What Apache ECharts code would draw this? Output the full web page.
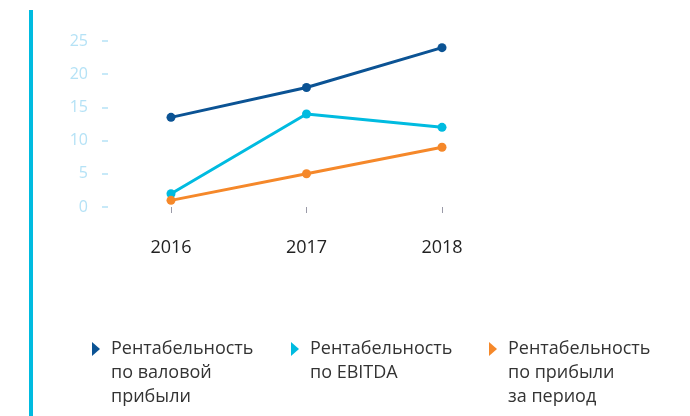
<!DOCTYPE html>
<html>
<head>
<meta charset="utf-8">
<script src="https://cdn.jsdelivr.net/npm/echarts@6/dist/echarts.min.js"></script>
<style>
  html, body { margin: 0; padding: 0; background: #fff; }
  #chart { width: 690px; height: 416px; }
</style>
</head>
<body>
<div id="chart"></div>
<script>
  var years = ['2016', '2017', '2018'];
  var grossMargin = [13.5, 18, 24];
  var ebitdaMargin = [2, 14, 12];
  var netMargin = [1, 5, 9];
  var names = [
    'Рентабельность\nпо валовой\nприбыли',
    'Рентабельность\nпо EBITDA',
    'Рентабельность\nпо прибыли\nза период'
  ];
  var colors = ['#0b5394', '#00bbe0', '#f5882a'];

  var font = '"Open Sans", "Noto Sans", sans-serif';
  var arrow = 'path://M0,0 L8,7 L0,14 Z';

  // the icon sits at the middle of the text block, so pad with empty lines
  // above to bring the first line level with the arrow
  function legendFor(i, left, lines) {
    var pad = lines - 1;
    return {
      left: left,
      top: 344 - (lines + pad) * 12,
      orient: 'vertical',
      data: [{ name: names[i], icon: arrow }],
      itemWidth: 8,
      itemHeight: 14,
      selectedMode: false,
      formatter: function (name) {
        return new Array(pad + 1).join('\n') + name;
      },
      textStyle: {
        color: '#333',
        fontSize: 18,
        fontFamily: font,
        lineHeight: 24,
        padding: [0, 0, 0, 6]
      }
    };
  }

  function lineSeries(i, data) {
    return {
      name: names[i],
      type: 'line',
      data: data,
      symbol: 'circle',
      symbolSize: 9,
      lineStyle: { width: 3, color: colors[i] },
      itemStyle: { color: colors[i] }
    };
  }

  var myChart = echarts.init(document.getElementById('chart'));
  var option = {
    animation: false,
    graphic: [{
      type: 'rect',
      shape: { x: 29, y: 10, width: 4, height: 410 },
      style: { fill: '#00bbe0' }
    }],
    legend: [
      legendFor(0, 87, 3),
      legendFor(1, 286, 2),
      legendFor(2, 484, 3)
    ],
    grid: { left: 171, right: 248, top: 41, bottom: 209 },
    xAxis: {
      type: 'category',
      data: years,
      boundaryGap: false,
      offset: 20,
      axisLine: { show: false },
      axisTick: { show: true, alignWithLabel: true, length: 6, lineStyle: { color: '#9a9aa8', width: 1 } },
      axisLabel: { color: '#222', fontSize: 18, fontFamily: font, margin: 12 }
    },
    yAxis: {
      type: 'value',
      min: 0,
      max: 25,
      interval: 5,
      offset: 63,
      splitLine: { show: false },
      axisLine: { show: false },
      axisTick: { show: true, length: 6, lineStyle: { color: '#b5e2f6', width: 1.5 } },
      axisLabel: { color: '#b5e2f6', fontSize: 16, fontFamily: font, margin: 20 }
    },
    series: [
      lineSeries(0, grossMargin),
      lineSeries(1, ebitdaMargin),
      lineSeries(2, netMargin)
    ]
  };
  myChart.setOption(option);
</script>
</body>
</html>
